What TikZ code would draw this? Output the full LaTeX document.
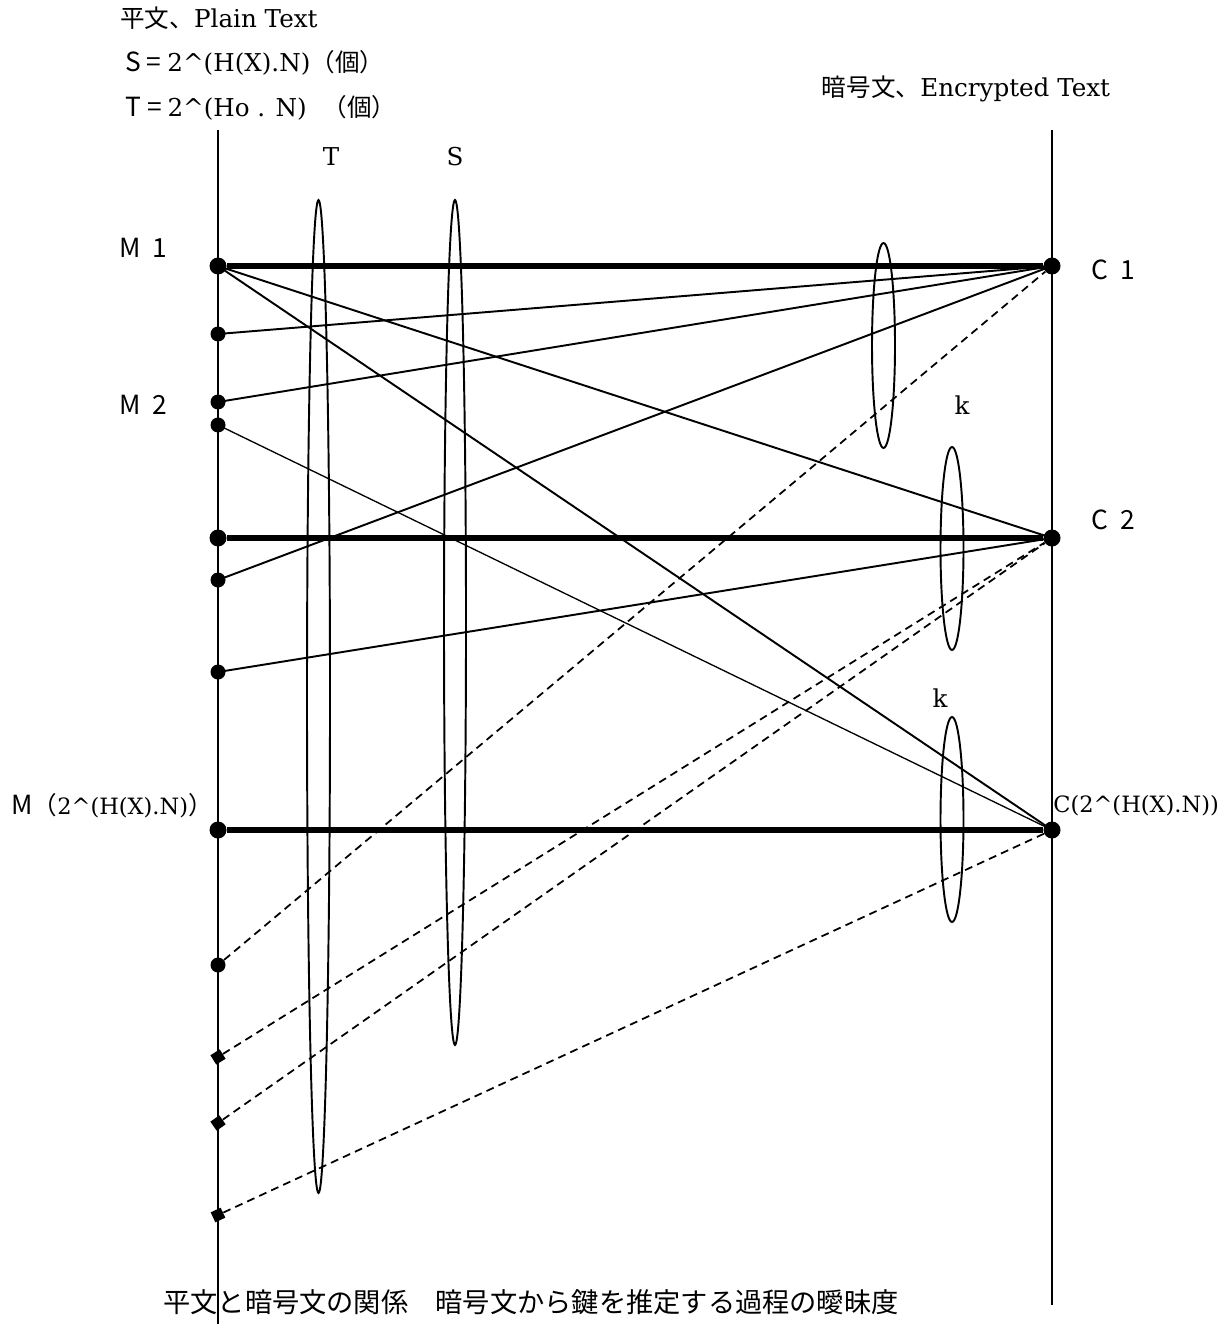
\documentclass[tikz,border=0pt]{standalone}
\usepackage{fontspec}
\setmainfont{DejaVu Serif}
\newfontfamily\jp{Noto Sans CJK JP}
\newcommand{\bigjp}{\jp\fontsize{15}{17}\selectfont}
\usetikzlibrary{shapes.geometric}

\begin{document}
\begin{tikzpicture}[x=0.02cm,y=-0.02cm,
  dot/.style={circle,fill,inner sep=0pt,minimum size=0.34cm},
  smalldot/.style={circle,fill,inner sep=0pt,minimum size=0.3cm},
  sqdot/.style={rectangle,fill,inner sep=0pt,minimum size=0.22cm},
  ring/.style={draw,ellipse,line width=1.1pt,inner sep=0pt,minimum width=0.46cm},
  txt/.style={font=\fontsize{14}{16}\selectfont,inner sep=0pt},
  small/.style={font=\fontsize{12.8}{15}\selectfont,inner sep=0pt},
  lbl/.style={font=\bigjp,inner sep=0pt},
  heavy/.style={line width=3.4pt},
  link/.style={line width=1.1pt},
  guess/.style={line width=1pt,dash pattern=on 4.5pt off 3pt}]
  \useasboundingbox (0,0) rectangle (1226,1324);
  \node[txt,anchor=west] (plain) at (120,18) {{\jp 平文、}Plain Text};
  \node[txt,anchor=west] (scount) at (125,63) {{\bigjp S = }2\textasciicircum(H(X).N){\jp （個）}};
  \node[txt,anchor=west] (tcount) at (125,108) {{\bigjp T = }2\textasciicircum(Ho . N)\ \ {\jp （個）}};
  \node[txt] (cipher) at (966,89) {{\jp 暗号文、}Encrypted Text};
  \coordinate (ltop) at (218,130);
  \coordinate (lbot) at (218,1324);
  \coordinate (rtop) at (1052,130);
  \coordinate (rbot) at (1052,1305);
  \draw[link] (ltop) -- (lbot);
  \draw[link] (rtop) -- (rbot);
  \node[ring,minimum height=19.86cm] (tset) at (318.5,696.5) {};
  \node[ring,minimum width=0.44cm,minimum height=16.9cm] (sset) at (455,622.5) {};
  \node[ring,minimum height=4.1cm] (kone) at (883.5,345.5) {};
  \node[ring,minimum height=4.06cm] (ktwo) at (952,548.5) {};
  \node[ring,minimum height=4.1cm] (kthree) at (952,819.5) {};
  \node[txt] (tlbl) at (331,157) {T};
  \node[txt] (slbl) at (455,157) {S};
  \node[txt] (klbla) at (962,405) {k};
  \node[txt] (klblb) at (940,698) {k};
  \node[dot] (m1) at (218,266) {};
  \node[smalldot] (p1) at (218,334) {};
  \node[smalldot] (m2) at (218,402) {};
  \node[smalldot] (p2) at (218,425) {};
  \node[dot] (p3) at (218,538) {};
  \node[smalldot] (p4) at (218,580) {};
  \node[smalldot] (p5) at (218,672) {};
  \node[dot] (mn) at (218,830) {};
  \node[smalldot] (p6) at (218,965) {};
  \node[sqdot,rotate=32] (q1) at (218,1057) {};
  \node[sqdot,rotate=35] (q2) at (218,1123) {};
  \node[sqdot,rotate=25] (q3) at (218,1215) {};
  \node[dot] (c1) at (1052,266) {};
  \node[dot] (c2) at (1052,538) {};
  \node[dot] (cn) at (1052,830) {};
  \draw[heavy] (m1) -- (c1);
  \draw[heavy] (p3) -- (c2);
  \draw[heavy] (mn) -- (cn);
  \draw[link] (m1.center) -- (c2.center);
  \draw[link] (m1.center) -- (cn.center);
  \draw[link] (p1.center) -- (c1.center);
  \draw[link] (m2.center) -- (c1.center);
  \draw[link] (p4.center) -- (c1.center);
  \draw[link] (p5.center) -- (c2.center);
  \draw[line width=0.75pt] (p2.center) -- (cn.center);
  \draw[guess] (p6) -- (c1);
  \draw[guess] (q1) -- (c2);
  \draw[guess] (q2) -- (c2);
  \draw[guess] (q3) -- (cn);
  \node[lbl] (m1lbl) at (143,248) {M\hspace{0.45em}1};
  \node[lbl] (m2lbl) at (143,405) {M\hspace{0.45em}2};
  \node[lbl] (c1lbl) at (1113,270) {C\hspace{0.45em}1};
  \node[lbl] (c2lbl) at (1113,520) {C\hspace{0.45em}2};
  \node[small,anchor=east] (mnlbl) at (213,806) {{\bigjp M}{\jp\fontsize{14}{16}\selectfont （}2\textasciicircum(H(X).N){\jp\fontsize{14}{16}\selectfont ）}};
  \node[small,anchor=west] (cnlbl) at (1053,806) {C(2\textasciicircum(H(X).N))};
  \node[txt,anchor=west,font=\jp\fontsize{15.5}{18}\selectfont] (caption) at (163,1302) {平文と暗号文の関係　暗号文から鍵を推定する過程の曖昧度};
\end{tikzpicture}
\end{document}
